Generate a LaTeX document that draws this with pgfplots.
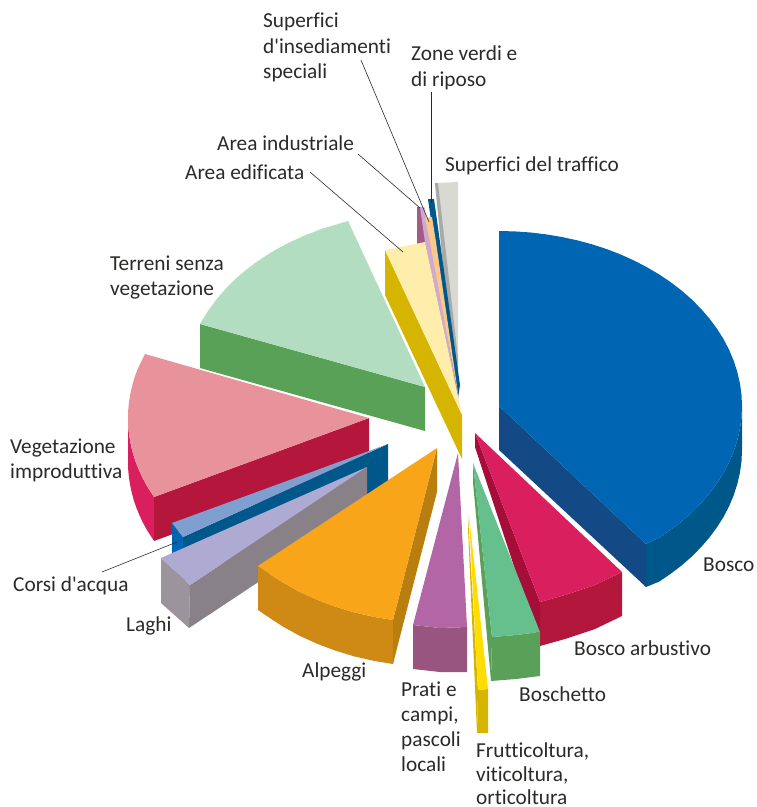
\documentclass[border=0pt]{standalone}
\usepackage{fontspec}
\usepackage{pgfplots}
\pgfplotsset{compat=1.18}
\setmainfont{Carlito}[Ligatures=ResetAll,RawFeature={-liga;-clig;-dlig;-calt}]
\definecolor{ink}{HTML}{2B2A29}
% palette: every facet colour, named by its hex value
\newcommand\pal[1]{\definecolor{c#1}{HTML}{#1}}
\pal{D8D9D2}\pal{A9A9A6}\pal{00578A}\pal{A05C85}\pal{D0A8D0}\pal{FBC987}
\pal{D6B500}\pal{FFEDAB}\pal{5AA158}\pal{B2DDC1}\pal{DA1F5E}\pal{B5173C}
\pal{E8939C}\pal{0066B3}\pal{7F9FD0}\pal{9B949C}\pal{888288}\pal{AFAAD2}
\pal{CE8A14}\pal{B87F10}\pal{F9A51A}\pal{97557F}\pal{B366A6}\pal{B3173C}
\pal{A50E38}\pal{5AA058}\pal{66C08E}\pal{FFDD00}\pal{134A85}
% one filled facet of an exploded slice, in drawing order
\newcommand\face[2]{\addplot[fill=c#1,draw=none,forget plot] coordinates {#2};}
\newcommand\lab[3]{\node[anchor=base west,inner sep=0pt,text=ink,font=\fontsize{21.3}{25}\selectfont] at (axis cs:#1,#2) {#3};}
\newcommand\leader[1]{\addplot[ink,line width=0.6pt,forget plot] coordinates {#1};}
\begin{document}
\begin{tikzpicture}
\begin{axis}[
  scale only axis, width=757pt, height=807pt,
  xmin=0, xmax=757, ymin=0, ymax=807, y dir=reverse,
  axis lines=none, clip=false]

% invisible frame that fixes the extent of the picture
\addplot[draw=none,forget plot] coordinates {(0,0)(757,0)(757,807)(0,807)(0,0)};

% Superfici del traffico
\face{D8D9D2}{(435,183)(458,182)(458,398)(456,398)}
\face{A9A9A6}{(435,183)(438,183)(458,358)(458,398)(456,398)}
% Zone verdi e di riposo
\face{00578A}{(428,199)(434,199)(460,385)(458,398)(455,390)}
% Area industriale
\face{A05C85}{(417,207)(424,207)(458,397)(417,262)}
\face{D0A8D0}{(420,207)(424,207)(431,242)(458,397)(425,242)}
% Superfici d'insediamenti speciali
\face{FBC987}{(425,218)(432,217)(436,242)(459,400)(430,242)}
% Area edificata
\face{D6B500}{(385,250)(462,415)(462,459)(385,295)}
\face{FFEDAB}{(385,250)(425,242)(462,415)}
% Terreni senza vegetazione
\face{5AA158}{(200,324)(425,387)(425,431)(200,368)}
\face{B2DDC1}{(425,387)(200,324)(206.6,313)(216.3,299.5)(227.6,286.6)(240.4,274.5)(254.6,263.3)(270,253)(286.8,243.7)(304.5,235.5)(323.2,228.4)(348,221)}
% Vegetazione improduttiva
\face{DA1F5E}{(128,418)(128.2,425.6)(128.9,433.3)(130.1,440.8)(131.7,448.4)(133.7,455.9)(136.2,463.3)(139.2,470.6)(142.5,477.9)(147.2,486.4)(154,497)(154,541)(147.2,530.4)(142.5,521.9)(139.2,514.6)(136.2,507.3)(133.7,499.9)(131.7,492.4)(130.1,484.8)(128.9,477.3)(128.2,469.6)(128,462)}
\face{B5173C}{(154,497)(369,418)(369,462)(154,541)}
\face{E8939C}{(369,418)(145,354)(137.3,369.8)(134.2,378.6)(131.7,387.6)(130.1,395.2)(128.9,402.7)(128.2,410.4)(128,418)(128.2,425.6)(128.9,433.3)(130.1,440.8)(131.7,448.4)(133.7,455.9)(136.2,463.3)(139.2,470.6)(142.5,477.9)(147.2,486.4)(154,497)}
% Corsi d'acqua
\face{0066B3}{(172,523)(183,537)(183,581)(172,567)}
\face{00578A}{(183,537)(388,444)(388,488)(183,581)}
\face{7F9FD0}{(172,523)(388,444)(183,537)}
% Laghi
\face{9B949C}{(161,558)(190,585)(189,628)(161,603)}
\face{888288}{(190,585)(367,467)(367,510)(189,628)}
\face{AFAAD2}{(161,558)(367,467)(190,585)}
% Alpeggi
\face{CE8A14}{(258,566)(269.6,573.9)(282,582)(298.8,591.4)(316.5,599.5)(335.2,606.6)(354.6,612.5)(374.6,617)(393,620)(393,664)(374.6,661)(354.6,656.5)(335.2,650.6)(316.5,643.5)(298.8,635.4)(282,626)(269.6,617.9)(258,610)}
\face{B87F10}{(437,448)(437,492)(393,664)(393,620)}
\face{F9A51A}{(437,448)(258,566)(269.6,573.9)(282,582)(298.8,591.4)(316.5,599.5)(335.2,606.6)(354.6,612.5)(374.6,617)(393,620)}
% Prati e campi, pascoli locali
\face{97557F}{(413,625)(440,628)(467,627)(467,672)(440,672)(413,669)}
\face{B366A6}{(458,453)(413,625)(440,628)(467,627)}
% Bosco arbustivo
\face{B3173C}{(540,602)(565,595)(595,585)(622,572)(622,616)(595,629)(565,639)(540,646)}
\face{A50E38}{(475,433)(475,447)(540,646)(540,602)}
\face{DA1F5E}{(475,433)(540,602)(565,595)(595,585)(622,572)}
% Boschetto
\face{5AA058}{(492,637)(516,635)(540,632)(540,676)(516,679)(491,681)}
\face{5AA058}{(473,463)(473,482)(491,681)(492,637)}
\face{66C08E}{(473,463)(492,637)(516,635)(540,632)}
% Frutticoltura, viticoltura, orticoltura
\face{D6B500}{(478,690)(488,689)(488,733)(477,733)}
\face{D6B500}{(468,515)(468,528)(477,733)(478,690)}
\face{FFDD00}{(469,515)(478,690)(488,689)}
% Bosco
\face{00578A}{(742,406)(741.5,417.4)(739.9,428.8)(737.3,440.1)(733.7,451.3)(729.1,462.2)(723.5,473)(716.9,483.4)(709.4,493.5)(701,503.2)(691.8,512.5)(681.7,521.4)(670.8,529.7)(659.2,537.6)(646,544)(646,587)(659.2,581.6)(670.8,573.7)(681.7,565.4)(691.8,556.5)(701,547.2)(709.4,537.5)(716.9,527.4)(723.5,517)(729.1,506.2)(733.7,495.3)(737.3,484.1)(739.9,472.8)(741.5,461.4)(742,450)}
\face{134A85}{(499,406)(646,544)(646,587)(499,450)}
\face{0066B3}{(499,231)(514.9,231.4)(530.7,232.5)(546.4,234.4)(561.9,237)(577.1,240.3)(592,244.3)(606.5,249)(620.5,254.4)(634,260.5)(646.9,267.2)(659.2,274.4)(670.8,282.3)(681.7,290.6)(691.8,299.5)(701,308.8)(709.4,318.5)(716.9,328.6)(723.5,339)(729.1,349.8)(733.7,360.7)(737.3,371.9)(739.9,383.2)(741.5,394.6)(742,406)(741.5,417.4)(739.9,428.8)(737.3,440.1)(733.7,451.3)(729.1,462.2)(723.5,473)(716.9,483.4)(709.4,493.5)(701,503.2)(691.8,512.5)(681.7,521.4)(670.8,529.7)(659.2,537.6)(646,544)(499,406)}

% Leader lines
\leader{(361,60)(429,222)}
\leader{(431,92)(431,203)}
\leader{(358,154)(420,208)}
\leader{(310,172)(403,252)}
\leader{(102,572)(177,542)}

% Labels
\lab{263}{27}{Superfici}
\lab{263}{53}{d\textquotesingle insediamenti}
\lab{263}{78}{speciali}
\lab{411}{60}{Zone verdi e}
\lab{411}{86}{di riposo}
\lab{445}{171}{Superfici del traffico}
\lab{217}{150}{Area industriale}
\lab{185}{179}{Area edificata}
\lab{110}{270}{Terreni senza}
\lab{110}{295}{vegetazione}
\lab{10}{453}{Vegetazione}
\lab{10}{478}{improduttiva}
\lab{13}{591}{Corsi d\textquotesingle acqua}
\lab{126}{631}{Laghi}
\lab{302}{677}{Alpeggi}
\lab{401}{696}{Prati e}
\lab{401}{721}{campi,}
\lab{401}{746}{pascoli}
\lab{401}{771}{locali}
\lab{519}{701}{Boschetto}
\lab{574}{655}{Bosco arbustivo}
\lab{703}{571}{Bosco}
\lab{476}{757}{Frutticoltura,}
\lab{476}{781}{viticoltura,}
\lab{476}{804}{orticoltura}
\end{axis}
\end{tikzpicture}
\end{document}
